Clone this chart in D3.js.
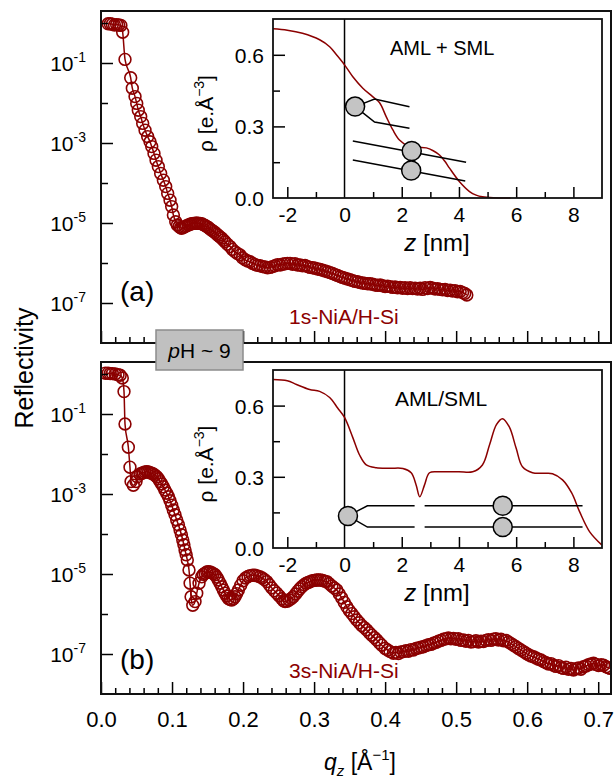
<!DOCTYPE html>
<html>
<head>
<meta charset="utf-8">
<script src="https://cdn.jsdelivr.net/npm/d3@7"></script>
<style>
  body { margin: 0; background: #fff; }
  svg { font-family: "Liberation Sans", Arial, sans-serif; }
</style>
</head>
<body>
<div id="chart"></div>
<script>
// ---- reflectivity data, panel (a): 1s-NiA/H-Si ----
var qA = [0.010, 0.013, 0.016, 0.019, 0.022, 0.025, 0.028, 0.0305, 0.0338, 0.0418,
  0.0441, 0.0479, 0.0503, 0.0525, 0.0559, 0.0587, 0.062, 0.0657, 0.069, 0.0714,
  0.0746, 0.0775, 0.0807, 0.084, 0.0878, 0.0911, 0.0939, 0.0972, 0.0995, 0.1019,
  0.1052, 0.1075, 0.1099, 0.112, 0.1136, 0.116, 0.1183, 0.1205, 0.123, 0.1255,
  0.1277, 0.130, 0.1324, 0.1347, 0.137, 0.1394, 0.1418, 0.144, 0.1465, 0.149,
  0.1511, 0.1535, 0.156, 0.1585, 0.1606, 0.163, 0.1652, 0.1676, 0.170, 0.1725,
  0.1746, 0.178, 0.1817, 0.185, 0.1887, 0.192, 0.1958, 0.199, 0.203, 0.2065,
  0.2099, 0.2135, 0.217, 0.2205, 0.2239, 0.2275, 0.231, 0.2345, 0.238, 0.2415,
  0.245, 0.2485, 0.2521, 0.2555, 0.259, 0.2625, 0.2662, 0.2697, 0.2732, 0.2768,
  0.2803, 0.2838, 0.2873, 0.2908, 0.2944, 0.298, 0.3015, 0.305, 0.3085, 0.312,
  0.3155, 0.319, 0.3225, 0.326, 0.3295, 0.333, 0.3366, 0.340, 0.3435, 0.347,
  0.3507, 0.3542, 0.3577, 0.3612, 0.3648, 0.3683, 0.3718, 0.3754, 0.3789, 0.3824,
  0.386, 0.3895, 0.393, 0.3965, 0.400, 0.4035, 0.407, 0.4105, 0.414, 0.4175,
  0.4211, 0.4246, 0.4281, 0.4316, 0.4352, 0.4387, 0.4422, 0.4457, 0.4493, 0.4528,
  0.4563, 0.4598, 0.4634, 0.467, 0.4705, 0.474, 0.4775, 0.481, 0.4845, 0.488,
  0.4915, 0.495, 0.4985, 0.502, 0.5056, 0.509, 0.512, 0.515];
var logRA = [-0.02, -0.02, -0.03, -0.05, -0.04, -0.05, -0.06, -0.23, -0.91, -1.37,
  -1.63, -1.84, -2.01, -2.18, -2.34, -2.51, -2.68, -2.84, -2.97, -3.09,
  -3.26, -3.43, -3.59, -3.76, -3.93, -4.09, -4.26, -4.43, -4.59, -4.80,
  -4.97, -5.05, -5.09, -5.12, -5.13, -5.11, -5.09, -5.07, -5.05, -5.03,
  -5.02, -5.01, -5.01, -5.00, -5.01, -5.01, -5.02, -5.04, -5.06, -5.09,
  -5.11, -5.15, -5.18, -5.21, -5.24, -5.28, -5.31, -5.35, -5.38, -5.43,
  -5.47, -5.53, -5.59, -5.66, -5.72, -5.76, -5.80, -5.87, -5.92, -5.95,
  -5.97, -6.01, -6.04, -6.06, -6.07, -6.09, -6.10, -6.12, -6.11, -6.09,
  -6.07, -6.04, -6.05, -6.03, -6.02, -6.01, -6.01, -6.03, -6.02, -6.05,
  -6.05, -6.07, -6.06, -6.09, -6.11, -6.12, -6.13, -6.15, -6.16, -6.18,
  -6.20, -6.22, -6.24, -6.26, -6.29, -6.31, -6.34, -6.36, -6.38, -6.40,
  -6.42, -6.44, -6.46, -6.47, -6.49, -6.50, -6.51, -6.52, -6.52, -6.53,
  -6.55, -6.56, -6.55, -6.57, -6.59, -6.58, -6.59, -6.61, -6.60, -6.62,
  -6.61, -6.63, -6.62, -6.64, -6.62, -6.64, -6.63, -6.65, -6.63, -6.66,
  -6.62, -6.64, -6.61, -6.63, -6.65, -6.64, -6.66, -6.67, -6.66, -6.69,
  -6.68, -6.70, -6.69, -6.72, -6.71, -6.74, -6.76, -6.80];

// ---- reflectivity data, panel (b): 3s-NiA/H-Si ----
var qB = [0.006, 0.010, 0.013, 0.016, 0.020, 0.024, 0.027, 0.030, 0.0324, 0.0338,
  0.0385, 0.0408, 0.0423, 0.0455, 0.0493, 0.0511, 0.0549, 0.0575, 0.0596, 0.062,
  0.0644, 0.0667, 0.069, 0.0713, 0.0737, 0.076, 0.0785, 0.0808, 0.0831, 0.0855,
  0.0877, 0.090, 0.0925, 0.095, 0.0972, 0.0995, 0.1018, 0.1042, 0.1066, 0.109,
  0.1113, 0.1132, 0.1151, 0.1167, 0.1183, 0.1199, 0.1215, 0.1239, 0.1254, 0.1268,
  0.1292, 0.1324, 0.1348, 0.138, 0.1418, 0.144, 0.1465, 0.149, 0.1511, 0.1535,
  0.1559, 0.158, 0.1606, 0.163, 0.1652, 0.1676, 0.170, 0.1723, 0.1746, 0.177,
  0.1793, 0.1817, 0.1841, 0.1865, 0.1887, 0.191, 0.1934, 0.1967, 0.200, 0.2035,
  0.207, 0.210, 0.2135, 0.2169, 0.220, 0.2235, 0.227, 0.230, 0.2334, 0.237,
  0.2405, 0.244, 0.2475, 0.251, 0.2545, 0.257, 0.2592, 0.262, 0.265, 0.268,
  0.2708, 0.274, 0.277, 0.280, 0.2827, 0.286, 0.289, 0.292, 0.2944, 0.2975,
  0.3005, 0.3035, 0.306, 0.309, 0.312, 0.315, 0.3179, 0.321, 0.325, 0.3285,
  0.332, 0.3355, 0.339, 0.3425, 0.3461, 0.3495, 0.353, 0.3565, 0.3601, 0.3636,
  0.367, 0.3705, 0.3742, 0.3777, 0.3812, 0.3848, 0.3883, 0.3918, 0.3953, 0.400,
  0.4035, 0.407, 0.4117, 0.4152, 0.4187, 0.4222, 0.4258, 0.4293, 0.4328, 0.4364,
  0.4399, 0.4434, 0.4469, 0.4504, 0.4539, 0.4575, 0.461, 0.4645, 0.468, 0.4715,
  0.475, 0.4785, 0.4821, 0.4856, 0.4891, 0.4926, 0.4962, 0.4997, 0.5032, 0.5068,
  0.5103, 0.5138, 0.5173, 0.5209, 0.5244, 0.5279, 0.5314, 0.535, 0.5385, 0.542,
  0.5455, 0.549, 0.5525, 0.556, 0.5596, 0.5631, 0.5666, 0.5701, 0.5736, 0.5772,
  0.5807, 0.5842, 0.5877, 0.5912, 0.5948, 0.5983, 0.6018, 0.6053, 0.6089, 0.6124,
  0.6159, 0.6194, 0.623, 0.6265, 0.630, 0.6335, 0.637, 0.6405, 0.644, 0.6475,
  0.6511, 0.6546, 0.6581, 0.6616, 0.6652, 0.6687, 0.6722, 0.6757, 0.6793, 0.6828,
  0.6863, 0.6898, 0.6934, 0.6969, 0.7004, 0.704, 0.7075, 0.711, 0.714, 0.7169];
var logRB = [0.02, 0.02, 0.01, 0.01, 0.00, -0.02, -0.03, -0.10, -0.44, -1.25,
  -1.83, -2.33, -2.69, -2.78, -2.69, -2.57, -2.50, -2.48, -2.47, -2.45,
  -2.44, -2.45, -2.47, -2.48, -2.50, -2.53, -2.57, -2.62, -2.69, -2.75,
  -2.82, -2.90, -2.98, -3.07, -3.17, -3.28, -3.40, -3.52, -3.65, -3.77,
  -3.90, -4.02, -4.15, -4.27, -4.40, -4.52, -4.65, -4.90, -5.23, -5.57,
  -5.78, -5.69, -5.48, -5.23, -5.07, -5.01, -4.98, -4.95, -4.94, -4.95,
  -4.97, -4.99, -5.02, -5.08, -5.15, -5.23, -5.32, -5.40, -5.48, -5.55,
  -5.61, -5.64, -5.65, -5.62, -5.57, -5.49, -5.40, -5.28, -5.17, -5.10,
  -5.06, -5.04, -5.03, -5.03, -5.05, -5.07, -5.10, -5.14, -5.19, -5.27,
  -5.35, -5.42, -5.48, -5.55, -5.62, -5.67, -5.69, -5.68, -5.65, -5.61,
  -5.57, -5.50, -5.43, -5.37, -5.32, -5.27, -5.23, -5.21, -5.19, -5.17,
  -5.16, -5.15, -5.15, -5.15, -5.16, -5.18, -5.19, -5.24, -5.30, -5.35,
  -5.40, -5.50, -5.60, -5.71, -5.82, -5.91, -5.99, -6.07, -6.15, -6.22,
  -6.29, -6.34, -6.40, -6.47, -6.53, -6.59, -6.65, -6.72, -6.78, -6.86,
  -6.90, -6.94, -6.98, -6.96, -6.99, -6.95, -6.94, -6.92, -6.93, -6.89,
  -6.90, -6.86, -6.85, -6.83, -6.82, -6.79, -6.77, -6.76, -6.73, -6.71,
  -6.68, -6.66, -6.63, -6.62, -6.60, -6.62, -6.61, -6.63, -6.62, -6.66,
  -6.65, -6.68, -6.66, -6.70, -6.69, -6.67, -6.70, -6.68, -6.69, -6.66,
  -6.64, -6.66, -6.63, -6.62, -6.65, -6.63, -6.67, -6.66, -6.70, -6.74,
  -6.78, -6.82, -6.86, -6.90, -6.94, -6.98, -7.02, -7.05, -7.07, -7.10,
  -7.13, -7.15, -7.19, -7.22, -7.25, -7.24, -7.28, -7.31, -7.29, -7.34,
  -7.36, -7.33, -7.38, -7.36, -7.40, -7.37, -7.35, -7.38, -7.32, -7.30,
  -7.27, -7.25, -7.23, -7.26, -7.29, -7.27, -7.28, -7.32, -7.34, -7.36];

// ---- electron density profiles (insets) ----
var zA = [-2.5, -2.0, -1.47, -0.87, -0.52, -0.28, 0.0, 0.29, 0.64, 0.98,
  1.22, 1.46, 1.69, 1.92, 2.27, 2.6, 2.86, 3.1, 3.32, 3.5, 3.67, 4.02, 4.37, 4.6, 4.82, 5.2, 5.8];
var rhoA = [0.709, 0.703, 0.69, 0.663, 0.634, 0.60, 0.558, 0.508, 0.46, 0.425,
  0.40, 0.34, 0.285, 0.243, 0.215, 0.212, 0.21, 0.198, 0.18, 0.155, 0.125, 0.068, 0.027, 0.012, 0.005, 0.001, 0.0];
var zB = [-2.5, -2.0, -1.68, -1.22, -0.87, -0.52, -0.24, 0.0, 0.29, 0.52,
  0.76, 1.11, 1.6, 2.04, 2.33, 2.5, 2.63, 2.8, 2.97, 3.32, 4.0, 4.48,
  4.82, 5.07, 5.31, 5.52, 5.76, 6.0, 6.22, 6.57, 7.0, 7.27, 7.62, 7.94, 8.22, 8.57, 8.99];
var rhoB = [0.71, 0.705, 0.689, 0.668, 0.66, 0.634, 0.59, 0.55, 0.465, 0.393,
  0.35, 0.338, 0.336, 0.335, 0.317, 0.267, 0.216, 0.267, 0.317, 0.321, 0.321, 0.321,
  0.35, 0.435, 0.52, 0.545, 0.51, 0.42, 0.342, 0.317, 0.315, 0.313, 0.287, 0.232, 0.152, 0.068, 0.013];

// molecule cartoons [z, rho]
var tailsA = [
  [[0.37, 0.383], [1.05, 0.415], [2.27, 0.382]],
  [[0.37, 0.383], [1.05, 0.318], [2.27, 0.292]],
  [[0.29, 0.239], [4.25, 0.15]],
  [[0.29, 0.159], [4.22, 0.071]]
];
var headsA = [[0.37, 0.383], [2.35, 0.197], [2.33, 0.115]];
var tailsB = [
  [[0.12, 0.135], [0.8, 0.178], [2.45, 0.178]],
  [[2.8, 0.178], [8.32, 0.178]],
  [[0.12, 0.135], [0.8, 0.088], [2.45, 0.088]],
  [[2.8, 0.088], [8.32, 0.088]]
];
var headsB = [[0.12, 0.135], [5.53, 0.178], [5.53, 0.088]];

// ---- ticks ----
var qMajor = [0, 0.1, 0.2, 0.3, 0.4, 0.5, 0.6, 0.7];
var qMinor = [0.02, 0.04, 0.06, 0.08, 0.12, 0.14, 0.16, 0.18, 0.22, 0.24, 0.26, 0.28,
  0.32, 0.34, 0.36, 0.38, 0.42, 0.44, 0.46, 0.48, 0.52, 0.54, 0.56, 0.58, 0.62, 0.64, 0.66, 0.68];
var rMajor = [1e-1, 1e-3, 1e-5, 1e-7];
var rMinor = [1, 1e-2, 1e-4, 1e-6];
var zMajor = [-2, 2, 4, 6, 8];
var zLabels = [-2, 0, 2, 4, 6, 8];
var zMinor = [-1, 1, 3, 5, 7];
var rhoMajor = [0.3, 0.6];
var rhoLabels = [0.0, 0.3, 0.6];
var rhoMinor = [0.15, 0.45];

var red = "#8b0000";
var svg = d3.select("#chart").append("svg")
  .attr("width", 614)
  .attr("height", 778);

var x = d3.scaleLinear().domain([0, 0.718]).range([101, 611]);

function styleAxis(g) {
  g.select(".domain").remove();
  g.selectAll("line").attr("stroke", "#000").attr("stroke-width", 1.5);
  g.selectAll("text").attr("fill", "#000").attr("font-family", null);
}

function drawPanel(p) {
  var y = d3.scaleLog().domain([1e-8, Math.pow(10, 0.3)]).range([p.bottom, p.top]);
  var pts = p.q.map(function(q, i) { return { q: q, r: Math.pow(10, p.logR[i]) }; });

  svg.append("clipPath").attr("id", "clip" + p.id)
    .append("rect")
    .attr("x", 101).attr("y", p.top)
    .attr("width", 510).attr("height", p.bottom - p.top);

  var data = svg.append("g").attr("clip-path", "url(#clip" + p.id + ")");

  data.append("path")
    .datum(pts)
    .attr("fill", "none")
    .attr("stroke", red)
    .attr("stroke-width", 1.5)
    .attr("d", d3.line().x(function(d) { return x(d.q); }).y(function(d) { return y(d.r); })
      .curve(d3.curveMonotoneX));

  data.selectAll("circle")
    .data(pts)
  .enter().append("circle")
    .attr("cx", function(d) { return x(d.q); })
    .attr("cy", function(d) { return y(d.r); })
    .attr("r", 5.9)
    .attr("fill", "none")
    .attr("stroke", red)
    .attr("stroke-width", 1.6);

  // left axis
  svg.append("g")
    .attr("transform", "translate(101,0)")
    .call(d3.axisLeft(y).tickValues(rMajor).tickSizeInner(-12).tickSizeOuter(0).tickPadding(15))
    .call(styleAxis)
    .call(function(g) {
      g.selectAll(".tick text").each(function(d) {
        var t = d3.select(this).text(null).attr("font-size", 21).attr("dy", "0.36em");
        t.append("tspan").text("10");
        t.append("tspan").attr("dy", -9).attr("font-size", 14)
          .text(String(Math.round(Math.log10(d))));
      });
    });
  svg.append("g")
    .attr("transform", "translate(101,0)")
    .call(d3.axisLeft(y).tickValues(rMinor).tickSizeInner(-7).tickSizeOuter(0).tickFormat(""))
    .call(styleAxis);

  // bottom axis
  svg.append("g")
    .attr("transform", "translate(0," + p.bottom + ")")
    .call(d3.axisBottom(x).tickValues(qMajor).tickSizeInner(-12).tickSizeOuter(0).tickPadding(17)
      .tickFormat(p.showX ? d3.format(".1f") : ""))
    .call(styleAxis)
    .call(function(g) { g.selectAll("text").attr("font-size", 22); });
  svg.append("g")
    .attr("transform", "translate(0," + p.bottom + ")")
    .call(d3.axisBottom(x).tickValues(qMinor).tickSizeInner(-6).tickSizeOuter(0).tickFormat(""))
    .call(styleAxis);

  svg.append("rect")
    .attr("x", 101).attr("y", p.top)
    .attr("width", 510).attr("height", p.bottom - p.top)
    .attr("fill", "none")
    .attr("stroke", "#111")
    .attr("stroke-width", 2);

  svg.append("text")
    .attr("x", 120).attr("y", p.tagY)
    .attr("font-size", 28)
    .text(p.tag);

  svg.append("text")
    .attr("x", 289).attr("y", p.nameY)
    .attr("font-size", 21)
    .attr("fill", red)
    .text(p.name);
}

function drawInset(s) {
  var xi = d3.scaleLinear().domain([-2.5, 9]).range([273, 602]);
  var yi = d3.scaleLinear().domain([0, 0.75]).range([s.bottom, s.top]);

  svg.append("rect")
    .attr("x", 273).attr("y", s.top)
    .attr("width", 329).attr("height", s.bottom - s.top)
    .attr("fill", "#fff");

  svg.append("line")
    .attr("x1", xi(0)).attr("x2", xi(0))
    .attr("y1", s.top).attr("y2", s.bottom)
    .attr("stroke", "#000").attr("stroke-width", 1.5);

  var prof = s.z.map(function(z, i) { return [z, s.rho[i]]; });
  svg.append("path")
    .datum(prof)
    .attr("fill", "none")
    .attr("stroke", red)
    .attr("stroke-width", 1.5)
    .attr("d", d3.line().x(function(d) { return xi(d[0]); }).y(function(d) { return yi(d[1]); })
      .curve(d3.curveCatmullRom.alpha(0.5)));

  var tl = d3.line().x(function(d) { return xi(d[0]); }).y(function(d) { return yi(d[1]); });
  svg.selectAll(null)
    .data(s.tails)
  .enter().append("path")
    .attr("d", tl)
    .attr("fill", "none")
    .attr("stroke", "#000")
    .attr("stroke-width", 1.5);

  svg.selectAll(null)
    .data(s.heads)
  .enter().append("circle")
    .attr("cx", function(d) { return xi(d[0]); })
    .attr("cy", function(d) { return yi(d[1]); })
    .attr("r", 9.5)
    .attr("fill", "#c4c4c4")
    .attr("stroke", "#000")
    .attr("stroke-width", 1.5);

  // axes
  svg.append("g")
    .attr("transform", "translate(273,0)")
    .call(d3.axisLeft(yi).tickValues(rhoLabels).tickSizeInner(0).tickSizeOuter(0).tickPadding(9)
      .tickFormat(d3.format(".1f")))
    .call(styleAxis)
    .call(function(g) { g.selectAll("text").attr("font-size", 21).attr("dy", "0.36em"); });
  svg.append("g")
    .attr("transform", "translate(273,0)")
    .call(d3.axisLeft(yi).tickValues(rhoMajor).tickSizeInner(-12).tickSizeOuter(0).tickFormat(""))
    .call(styleAxis);
  svg.append("g")
    .attr("transform", "translate(273,0)")
    .call(d3.axisLeft(yi).tickValues(rhoMinor).tickSizeInner(-7).tickSizeOuter(0).tickFormat(""))
    .call(styleAxis);

  svg.append("g")
    .attr("transform", "translate(0," + s.bottom + ")")
    .call(d3.axisBottom(xi).tickValues(zLabels).tickSizeInner(0).tickSizeOuter(0).tickPadding(9)
      .tickFormat(function(d) { return String(d); }))
    .call(styleAxis)
    .call(function(g) { g.selectAll("text").attr("font-size", 21); });
  svg.append("g")
    .attr("transform", "translate(0," + s.bottom + ")")
    .call(d3.axisBottom(xi).tickValues(zMajor).tickSizeInner(-11).tickSizeOuter(0).tickFormat(""))
    .call(styleAxis);
  svg.append("g")
    .attr("transform", "translate(0," + s.bottom + ")")
    .call(d3.axisBottom(xi).tickValues(zMinor).tickSizeInner(-6).tickSizeOuter(0).tickFormat(""))
    .call(styleAxis);

  svg.append("rect")
    .attr("x", 273).attr("y", s.top)
    .attr("width", 329).attr("height", s.bottom - s.top)
    .attr("fill", "none")
    .attr("stroke", "#111")
    .attr("stroke-width", 1.8);

  svg.append("text")
    .attr("x", s.titleX).attr("y", s.top + 36)
    .attr("font-size", s.titleSize)
    .text(s.title);

  var zl = svg.append("text")
    .attr("x", 437).attr("y", s.bottom + 53)
    .attr("text-anchor", "middle")
    .attr("font-size", 24);
  zl.append("tspan").attr("font-style", "italic").text("z");
  zl.append("tspan").text(" [nm]");

  var rl = svg.append("text")
    .attr("transform", "translate(213," + ((s.top + s.bottom) / 2 + 5) + ") rotate(-90)")
    .attr("text-anchor", "middle")
    .attr("font-size", 21);
  rl.append("tspan").text("\u03c1 [e.\u00c5");
  rl.append("tspan").attr("dy", -9).attr("font-size", 14).text("\u22123");
  rl.append("tspan").attr("dy", 9).text("]");
}

drawPanel({ id: "a", q: qA, logR: logRA, top: 11, bottom: 343, showX: false,
  tag: "(a)", tagY: 301, name: "1s-NiA/H-Si", nameY: 324 });
drawPanel({ id: "b", q: qB, logR: logRB, top: 362, bottom: 694, showX: true,
  tag: "(b)", tagY: 669, name: "3s-NiA/H-Si", nameY: 678 });

drawInset({ top: 19, bottom: 198, z: zA, rho: rhoA, tails: tailsA, heads: headsA,
  title: "AML + SML", titleX: 390, titleSize: 20 });
drawInset({ top: 370, bottom: 548, z: zB, rho: rhoB, tails: tailsB, heads: headsB,
  title: "AML/SML", titleX: 395, titleSize: 21 });

// pH box between the panels
svg.append("rect")
  .attr("x", 156).attr("y", 330)
  .attr("width", 87).attr("height", 40)
  .attr("fill", "#c0c0c0")
  .attr("stroke", "#8c8c8c")
  .attr("stroke-width", 1.5);
var ph = svg.append("text")
  .attr("x", 199.5).attr("y", 358)
  .attr("text-anchor", "middle")
  .attr("font-size", 21);
ph.append("tspan").attr("font-style", "italic").text("p");
ph.append("tspan").text("H ~ 9");

// axis titles
svg.append("text")
  .attr("transform", "translate(33,368) rotate(-90)")
  .attr("text-anchor", "middle")
  .attr("font-size", 25)
  .text("Reflectivity");

var ql = svg.append("text")
  .attr("x", 360).attr("y", 770)
  .attr("text-anchor", "middle")
  .attr("font-size", 23);
ql.append("tspan").attr("font-style", "italic").text("q");
ql.append("tspan").attr("font-style", "italic").attr("font-size", 15).attr("dy", 6).text("z");
ql.append("tspan").attr("dy", -6).text(" [\u00c5");
ql.append("tspan").attr("dy", -10).attr("font-size", 15).text("\u22121");
ql.append("tspan").attr("dy", 10).text("]");
</script>
</body>
</html>
